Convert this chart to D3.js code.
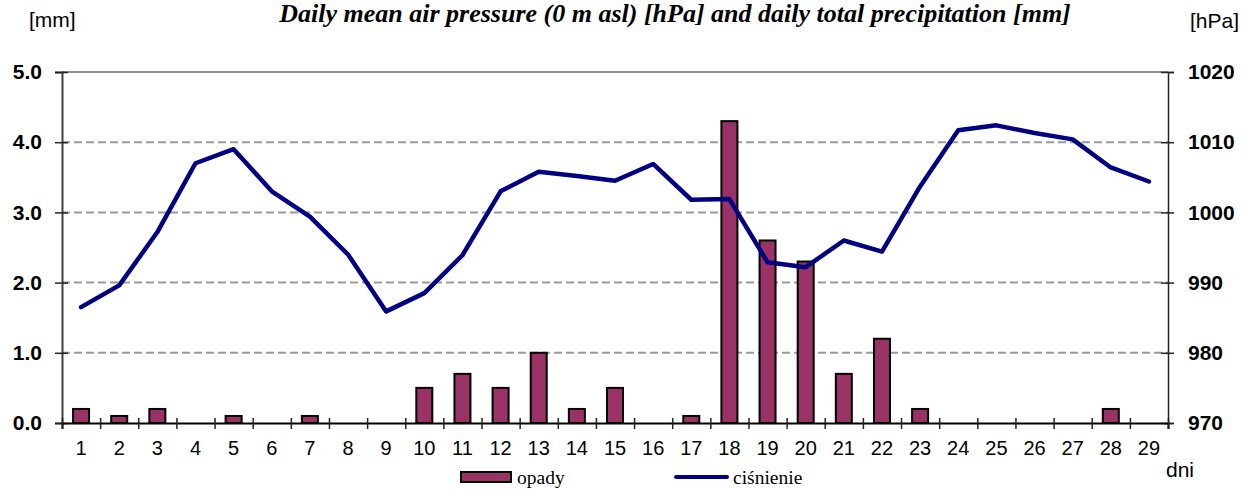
<!DOCTYPE html>
<html>
<head>
<meta charset="utf-8">
<script src="https://cdnjs.cloudflare.com/ajax/libs/d3/7.8.5/d3.min.js"></script>
<style>
  body { margin: 0; background: #fff; }
  svg { display: block; }
</style>
</head>
<body>
<div id="root"></div>
<script>
// Data.
const days = d3.range(1, 30);
const precip = [0.2, 0.1, 0.2, 0, 0.1, 0, 0.1, 0, 0, 0.5, 0.7, 0.5, 1.0, 0.2, 0.5, 0, 0.1, 4.3, 2.6, 2.3, 0.7, 1.2, 0.2, 0, 0, 0, 0, 0.2, 0];
const pressure = [986.5, 989.6, 997.2, 1007.0, 1009.0, 1003.0, 999.4, 994.0, 985.9, 988.5, 993.9, 1003.0, 1005.8, 1005.2, 1004.5, 1006.9, 1001.8, 1001.9, 992.9, 992.2, 996.0, 994.4, 1003.7, 1011.7, 1012.4, 1011.3, 1010.4, 1006.4, 1004.4];
const mmTicks = [0, 1, 2, 3, 4, 5];
const hpaTicks = [970, 980, 990, 1000, 1010, 1020];

const width = 1251;
const height = 490;
const plotLeft = 62, plotRight = 1168, plotTop = 72, plotBottom = 423;

const sans = 'Liberation Sans, Arial, sans-serif';
const serif = 'Liberation Serif, Times New Roman, serif';

const svg = d3.select('#root')
  .append('svg')
  .attr('width', width)
  .attr('height', height);

// Scales.
const xBand = d3.scaleBand().domain(days).range([plotLeft, plotRight]);
const xEdge = d3.scaleLinear().domain([0, 29]).range([plotLeft, plotRight]);
const yMm = d3.scaleLinear().domain([0, 5]).range([plotBottom, plotTop]);
const yHpa = d3.scaleLinear().domain([970, 1020]).range([plotBottom, plotTop]);

// Grid lines (dashed), top one solid.
svg.append('g')
  .selectAll('line')
  .data(mmTicks.filter(d => d > 0))
  .enter()
  .append('line')
  .attr('x1', plotLeft)
  .attr('x2', plotRight)
  .attr('y1', d => yMm(d))
  .attr('y2', d => yMm(d))
  .attr('stroke', d => d === 5 ? '#8c8c8c' : '#9a9a9a')
  .attr('stroke-width', 2)
  .attr('stroke-dasharray', d => d === 5 ? null : '8,4');

// Bars.
const barW = 16;
svg.append('g')
  .selectAll('rect')
  .data(days.map((d, i) => ({ day: d, v: precip[i] })).filter(d => d.v > 0))
  .enter()
  .append('rect')
  .attr('x', d => xBand(d.day) + xBand.bandwidth() / 2 - barW / 2)
  .attr('width', barW)
  .attr('y', d => yMm(d.v))
  .attr('height', d => yMm(0) - yMm(d.v))
  .attr('fill', '#993366')
  .attr('stroke', '#000')
  .attr('stroke-width', 2);

// Left axis.
const yAxisL = d3.axisLeft(yMm).tickValues(mmTicks).tickFormat(d3.format('.1f')).tickSize(7).tickPadding(13);
const gL = svg.append('g').attr('transform', `translate(${plotLeft},0)`).call(yAxisL);
gL.select('.domain').attr('stroke', '#404040').attr('stroke-width', 2);
gL.selectAll('.tick line').attr('x2', -7).attr('x1', 6).attr('stroke', '#222').attr('stroke-width', 1.5);
gL.selectAll('.tick text')
  .style('font-family', sans)
  .style('font-size', '21px')
  .style('font-weight', 'bold')
  .attr('fill', '#000');

// Right axis.
const yAxisR = d3.axisRight(yHpa).tickValues(hpaTicks).tickFormat(d3.format('d')).tickSize(6).tickPadding(14);
const gR = svg.append('g').attr('transform', `translate(${plotRight},0)`).call(yAxisR);
gR.select('.domain').attr('stroke', '#222').attr('stroke-width', 1.5);
gR.selectAll('.tick line').attr('x1', -7).attr('x2', 6).attr('stroke', '#222').attr('stroke-width', 1.5);
gR.selectAll('.tick text')
  .style('font-family', sans)
  .style('font-size', '21px')
  .style('font-weight', 'bold')
  .attr('fill', '#000');

// Bottom axis: ticks between days, labels at day centres.
const xAxisT = d3.axisBottom(xEdge).tickValues(d3.range(0, 30)).tickFormat('').tickSize(6);
const gX = svg.append('g').attr('transform', `translate(0,${plotBottom})`).call(xAxisT);
gX.select('.domain').attr('stroke', '#000').attr('stroke-width', 2);
gX.selectAll('.tick line').attr('y1', -5).attr('y2', 6).attr('stroke', '#222').attr('stroke-width', 1.5);

const xAxisL = d3.axisBottom(xBand).tickSize(0).tickPadding(18);
const gXL = svg.append('g').attr('transform', `translate(0,${plotBottom})`).call(xAxisL);
gXL.select('.domain').remove();
gXL.selectAll('.tick text')
  .style('font-family', sans)
  .style('font-size', '20px')
  .attr('fill', '#000');

// Pressure line.
const line = d3.line()
  .x((d, i) => xBand(days[i]) + xBand.bandwidth() / 2)
  .y(d => yHpa(d));
svg.append('path')
  .datum(pressure)
  .attr('d', line)
  .attr('fill', 'none')
  .attr('stroke', '#000080')
  .attr('stroke-width', 4.5)
  .attr('stroke-linejoin', 'round')
  .attr('stroke-linecap', 'round');

// Title and unit labels.
svg.append('text')
  .attr('x', 675)
  .attr('y', 22)
  .attr('text-anchor', 'middle')
  .style('font-family', serif)
  .style('font-size', '26px')
  .style('font-style', 'italic')
  .style('font-weight', 'bold')
  .text('Daily mean air pressure (0 m asl) [hPa] and daily total precipitation [mm]');

svg.append('text')
  .attr('x', 29).attr('y', 27)
  .style('font-family', sans)
  .style('font-size', '21px')
  .text('[mm]');

svg.append('text')
  .attr('x', 1190).attr('y', 28)
  .style('font-family', sans)
  .style('font-size', '21px')
  .text('[hPa]');

svg.append('text')
  .attr('x', 1166).attr('y', 477)
  .style('font-family', sans)
  .style('font-size', '21px')
  .text('dni');

// Legend.
const legend = svg.append('g');
legend.append('rect')
  .attr('x', 461).attr('y', 472)
  .attr('width', 50).attr('height', 10)
  .attr('fill', '#993366')
  .attr('stroke', '#000')
  .attr('stroke-width', 2);
legend.append('text')
  .attr('x', 517).attr('y', 484)
  .style('font-family', serif)
  .style('font-size', '19.5px')
  .text('opady');
legend.append('line')
  .attr('x1', 676).attr('x2', 727)
  .attr('y1', 477).attr('y2', 477)
  .attr('stroke', '#000080')
  .attr('stroke-width', 4)
  .attr('stroke-linecap', 'round');
legend.append('text')
  .attr('x', 733).attr('y', 484)
  .style('font-family', serif)
  .style('font-size', '19.5px')
  .text('ciśnienie');
</script>
</body>
</html>
